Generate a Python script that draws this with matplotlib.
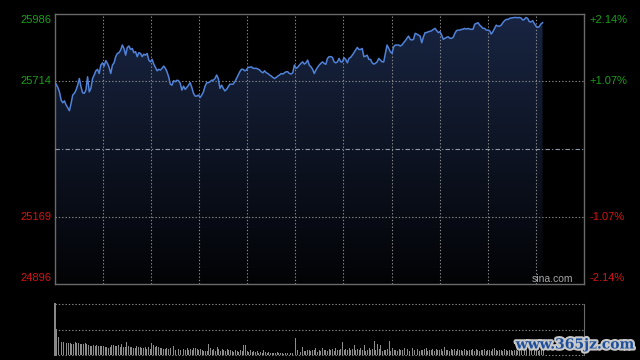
import numpy as np
import matplotlib
matplotlib.use("Agg")
import matplotlib.pyplot as plt
import matplotlib.patheffects as pe

# ---------------- data ----------------
prev_close = 25441
y_top, y_bottom = 25986, 24896
left_labels = ["25986", "25714", "25169", "24896"]
left_values = [25986, 25714, 25169, 24896]
right_labels = ["+2.14%", "+1.07%", "-1.07%", "-2.14%"]
label_colors = ["#17a017", "#17a017", "#d41414", "#d41414"]
session_minutes = 330
last_minute = 304

prices = [
    25711, 25703, 25690, 25672, 25639, 25628, 25636, 25619, 25608, 25596,
    25625, 25659, 25666, 25679, 25699, 25726, 25693, 25668, 25666, 25679,
    25733, 25672, 25686, 25726, 25740, 25757, 25763, 25746, 25780, 25789,
    25776, 25798, 25787, 25771, 25746, 25780, 25789, 25814, 25827, 25830,
    25841, 25861, 25847, 25820, 25851, 25857, 25843, 25847, 25830, 25834,
    25814, 25830, 25827, 25814, 25824, 25820, 25827, 25800, 25793, 25803,
    25784, 25771, 25757, 25763, 25760, 25767, 25776, 25767, 25753, 25733,
    25703, 25699, 25717, 25713, 25719, 25717, 25706, 25679, 25695, 25682,
    25690, 25699, 25709, 25690, 25666, 25655, 25655, 25659, 25649, 25659,
    25672, 25695, 25709, 25709, 25713, 25719, 25719, 25726, 25740, 25726,
    25686, 25699, 25686, 25676, 25682, 25693, 25703, 25703, 25703, 25713,
    25726, 25740, 25753, 25763, 25763, 25757, 25760, 25771, 25771,
    25773, 25767, 25767, 25767, 25764, 25760, 25753, 25749, 25757, 25749,
    25746, 25740, 25736, 25730, 25726, 25730, 25736, 25740, 25746, 25744,
    25749, 25753, 25753, 25746, 25744, 25749, 25780, 25767, 25771, 25780,
    25787, 25793, 25784, 25789, 25800, 25780, 25773, 25763, 25746, 25760,
    25771, 25780, 25787, 25793, 25787, 25783, 25807, 25814, 25814, 25811,
    25793, 25789, 25793, 25807, 25793, 25793, 25810, 25803,
    25789, 25807, 25811, 25820, 25830, 25841, 25851, 25843, 25843, 25847,
    25814, 25816, 25820, 25803, 25803, 25789, 25784, 25787, 25793, 25807,
    25800, 25793, 25793, 25827, 25861, 25847, 25834, 25827, 25854, 25861,
    25861, 25861, 25857, 25861, 25870, 25878, 25888, 25897, 25884, 25881,
    25884, 25908, 25905, 25901, 25897, 25870, 25894, 25911, 25911, 25915,
    25916, 25919, 25924, 25928, 25919, 25911, 25915, 25901,
    25884, 25888, 25892, 25894, 25888, 25888, 25892, 25908, 25919, 25921,
    25921, 25924, 25925, 25928, 25925, 25928, 25925, 25924, 25925, 25945,
    25948, 25951, 25941, 25935, 25928, 25928, 25921, 25921, 25919, 25905,
    25915, 25928, 25941, 25937, 25937, 25941, 25951, 25959, 25964, 25964,
    25968, 25970, 25971, 25972, 25972, 25971, 25972, 25970, 25962, 25964,
    25972, 25968, 25955, 25954, 25959, 25948, 25937, 25932, 25935, 25946,
    25951,
]

volumes = [
    160, 50.6, 36, 29.6, 26.3, 26.3, 23, 24.3, 23, 23, 21.7, 21.7, 25.6, 24.3,
    23, 21.7, 21, 21, 24.3, 21, 19, 18.4, 18.4, 19.7, 18.4, 19.7, 17.7, 17.7,
    17.7, 17.7, 16.4, 16.4, 14.5, 15.1, 19.7, 19.7, 17.7, 17.7, 19.7, 16.4,
    21.7, 16.4, 16.4, 25.6, 17.7, 16.4, 15.1, 13.1, 14.5, 17.7, 16.4, 16.4,
    14.5, 13.1, 15.1, 11.2, 15.1, 11.2, 23, 19.7, 15.1, 17.7, 16.4, 14.5,
    13.1, 11.2, 11.2, 13.1, 11.2, 13.1, 23, 17.7, 9.9, 9.9, 11.2, 9.9, 13.1,
    11.2, 9.9, 13.1, 9.9, 11.2, 9.9, 13.1, 13.1, 11.2, 9.9, 11.2, 9.9, 8.5,
    8.5, 8.5, 21.7, 13.1, 9.9, 11.2, 8.5, 15.1, 11.2, 8.5, 11.2, 9.9, 8.5,
    11.2, 9.9, 9.9, 8.5, 6.6, 9.9, 8.5, 6.6, 9.9, 8.5, 19.7, 19.7, 8.5, 6.6,
    9.9, 6.6, 8.5, 6.6, 8.5, 4.6, 6.6, 4.6, 9.9, 6.6, 4.6, 6.6, 4.6, 4.6,
    3.3, 4.6, 6.6, 4.6, 3.3, 4.6, 2, 3.3, 4.6, 3.3, 3.3, 3.3, 2, 32.9, 9.9,
    4.6, 6.6, 16.4, 8.5, 8.5, 9.9, 9.9, 8.5, 9.9, 9.9, 13.1, 6.6, 9.9, 8.5,
    13.1, 9.9,
    10, 8, 12, 9, 11, 8, 13, 9, 10, 12, 26, 10, 12, 9, 13, 10, 12, 19, 9, 12,
    10, 13, 9, 19, 8, 10, 13, 9, 12, 28, 10, 22, 12, 20, 8, 10, 9, 12, 28, 8,
    14, 9, 10, 8, 11, 9, 10, 13, 9, 12, 8, 11, 13, 9, 10, 12, 8, 10, 9, 12,
    13, 8, 10, 9, 11, 8, 12, 10, 9, 11, 8, 15, 9, 10, 8, 12, 9, 11, 8, 12, 9,
    10, 8, 11, 9, 8, 10, 9, 11, 8, 12, 9, 8, 10, 9, 11, 8, 10, 9, 8, 11, 14,
    9, 8, 10, 9, 8, 11, 9, 8, 10, 9, 8, 10,
    9, 8, 10, 9, 8, 11, 9, 8, 10, 9, 8, 9, 10, 8, 9, 11, 9,
]
vol_max = 100

# ---------------- figure ----------------
W, H = 640, 360
fig = plt.figure(figsize=(6.4, 3.6), dpi=100, facecolor="black")
plt.rcParams["font.family"] = ["Liberation Sans", "DejaVu Sans"]

def frac(x0, y0, x1, y1):
    return [x0 / W, 1 - y1 / H, (x1 - x0) / W, (y1 - y0) / H]

ax = fig.add_axes(frac(54.5, 14, 584.3, 284.3))
ax.set_facecolor("black")

t = np.linspace(0, last_minute, len(prices))
p = np.array(prices, dtype=float)

# gradient fill under the line
poly = ax.fill_between(t, p, y_bottom, color="none", linewidth=0)
top_c = np.array([0.095, 0.145, 0.26])
bot_c = np.array([0.01, 0.012, 0.02])
s = np.linspace(0, 1, 256)[:, None, None]
grad = top_c[None, None, :] * (1 - s) + bot_c[None, None, :] * s
im = ax.imshow(grad, extent=[0, session_minutes, y_bottom, y_top],
               aspect="auto", origin="upper", zorder=1, interpolation="bilinear")
im.set_clip_path(poly.get_paths()[0], transform=ax.transData)

ax.plot(t, p, color="#4f82d8", lw=1.1, zorder=4, solid_joinstyle="round")

# grid
grid_kw = dict(color="#8a8a8a", lw=0.8, linestyle=(0, (1.2, 1.8)), zorder=3)
for m in range(30, session_minutes, 30):
    ax.axvline(m, **grid_kw)
for v in (left_values[1], left_values[2]):
    ax.axhline(v, **grid_kw)
ax.axhline(prev_close, color="#8e9aa8", lw=0.8, linestyle=(0, (4, 2, 1, 2)), zorder=3)

ax.set_xlim(0, session_minutes)
ax.set_ylim(y_bottom, y_top)
ax.set_xticks([])
ax.set_yticks([])
for sp in ax.spines.values():
    sp.set_color("#6a6a6a")
    sp.set_linewidth(1.0)

# labels
offsets = [-6.3, 0, 0, 6.6]
for lab, rl, v, c, off in zip(left_labels, right_labels, left_values, label_colors, offsets):
    ax.annotate(lab, xy=(0, v), xycoords=("axes fraction", "data"),
                xytext=(-3.5, off), textcoords="offset pixels",
                ha="right", va="center", color=c, fontsize=8)
    ax.annotate(rl, xy=(1, v), xycoords=("axes fraction", "data"),
                xytext=(5.5, off), textcoords="offset pixels",
                ha="left", va="center", color=c, fontsize=8)

ax.annotate("sina.com", xy=(1, 0), xycoords="axes fraction",
            xytext=(-11, 5.5), textcoords="offset pixels",
            ha="right", va="center", color="#a8a8a8", fontsize=7.5)

# ---------------- volume panel ----------------
vax = fig.add_axes(frac(54.5, 304.3, 584.3, 355))
vax.set_facecolor("black")
tv = np.linspace(0, last_minute, len(volumes))
vax.bar(tv, volumes, width=0.6, align="edge", color="#8c8c8c", linewidth=0, zorder=2)
vax.set_xlim(0, session_minutes)
vax.set_ylim(0, vol_max)
vax.set_xticks([])
vax.set_yticks([])
for k in ("top", "bottom"):
    vax.spines[k].set_visible(False)
vax.spines["right"].set_color("#6a6a6a")
vax.spines["left"].set_color("#8c8c8c")
vax.spines["left"].set_linewidth(1.4)
for v in (0, vol_max / 2, vol_max):
    vax.axhline(v, color="#8a8a8a", lw=0.8, linestyle=(0, (1.2, 1.8)), zorder=1, clip_on=False)

fig.text(575 / W, 1 - 344.5 / H, "www.365jz.com", ha="center", va="center",
         fontsize=10, color="#1d4f9c", family="DejaVu Serif", weight="bold",
         path_effects=[pe.withStroke(linewidth=3, foreground="#c8c8c8")])

fig.savefig("out.png", dpi=100, facecolor="black")
